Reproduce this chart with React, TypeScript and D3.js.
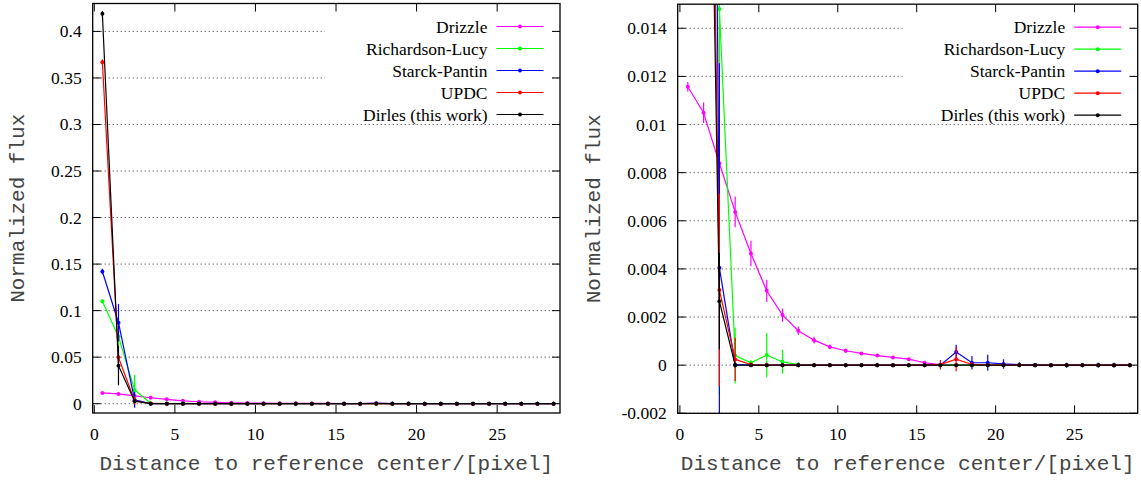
import React from "react";
import * as d3 from "d3";

// Distance bins (pixel), centers at i + 0.5
const distance: number[] = d3.range(29).map((i) => i + 0.5);

const seriesNames = ["Drizzle", "Richardson-Lucy", "Starck-Pantin", "UPDC", "Dirles (this work)"];
const seriesColors = ["#ff00ff", "#00ff00", "#0000ff", "#ff0000", "#000000"];

const drizzle = [0.01157, 0.01049, 0.00839, 0.00637, 0.00464, 0.00309, 0.00208, 0.00143, 0.00104, 0.00076,
  0.0006, 0.00049, 0.0004, 0.00032, 0.00025, 0.0001, 0.00002, 0.00001, 0.00001, 0, 0, 0, 0, 0, 0, 0, 0, 0, 0];
const drizzleErr = [0.0002, 0.00043, 0.0004, 0.00064, 0.00053, 0.00046, 0.00028, 0.00018, 0.00014, 0.0001,
  0.00008, 0.00006, 0.00005, 0.00004, 0.00003, 0.00002, 0.00001, 0, 0, 0, 0, 0, 0, 0, 0, 0, 0, 0, 0];

const richardsonLucy = [0.110, 0.072, 0.0148, 0.0004, 0.0001, 0.00042, 0.00014, 0.00002, 0, 0,
  0, 0, 0, 0, 0, 0, 0, 0, 0, 0, 0, 0, 0, 0, 0, 0, 0, 0, 0];
const richardsonLucyErr = [0.002, 0.01, 0.016, 0.00116, 0.0001, 0.00092, 0.0005, 0.0001, 0, 0,
  0, 0, 0, 0, 0, 0, 0, 0, 0, 0, 0, 0, 0, 0, 0, 0, 0, 0, 0];

const starckPantin = [0.142, 0.087, 0.00405, 0.00002, 0, 0, 0, 0, 0, 0,
  0, 0, 0, 0, 0, 0, 0, 0.00055, 0.0001, 0.0001, 0.00005, 0.00002, 0, 0, 0, 0, 0, 0, 0];
const starckPantinErr = [0.003, 0.02, 0.0085, 0.0001, 0, 0, 0, 0, 0, 0,
  0, 0, 0, 0, 0, 0, 0.0001, 0.0003, 0.00028, 0.00033, 0.0002, 0.0001, 0, 0, 0.0001, 0, 0.0001, 0.0001, 0];

const updc = [0.367, 0.0498, 0.00312, 0.00024, 0.00002, 0, 0, 0, 0, 0,
  0, 0, 0, 0, 0, 0, 0.00002, 0.00025, 0.00003, 0, 0, 0, 0, 0, 0, 0, 0, 0, 0];
const updcErr = [0.003, 0.005, 0.004, 0.0009, 0.0001, 0, 0, 0, 0, 0,
  0, 0, 0, 0, 0, 0, 0.0002, 0.0005, 0.0001, 0, 0, 0, 0, 0, 0, 0, 0, 0, 0];

const dirles = [0.419, 0.0409, 0.00266, 0, 0, 0, 0, 0, 0, 0,
  0, 0, 0, 0, 0, 0, 0, 0, 0, 0, 0, 0, 0, 0, 0, 0, 0, 0, 0];
const dirlesErr = [0.003, 0.021, 0.002, 0.0001, 0, 0, 0, 0, 0, 0,
  0, 0, 0, 0, 0, 0, 0, 0, 0, 0, 0, 0, 0, 0, 0, 0, 0, 0, 0];

const seriesValues = [drizzle, richardsonLucy, starckPantin, updc, dirles];
const seriesErrors = [drizzleErr, richardsonLucyErr, starckPantinErr, updcErr, dirlesErr];

const xTicks = [0, 5, 10, 15, 20, 25];
const leftYTicks = [0, 0.05, 0.1, 0.15, 0.2, 0.25, 0.3, 0.35, 0.4];
const leftYLabels = ["0", "0.05", "0.1", "0.15", "0.2", "0.25", "0.3", "0.35", "0.4"];
const rightYTicks = [-0.002, 0, 0.002, 0.004, 0.006, 0.008, 0.01, 0.012, 0.014];
const rightYLabels = ["-0.002", "0", "0.002", "0.004", "0.006", "0.008", "0.01", "0.012", "0.014"];

const xLabel = "Distance to reference center/[pixel]";
const yLabel = "Normalized flux";

const SERIF = "Liberation Serif";
const MONO = "Liberation Mono";

type PanelProps = {
  id: string;
  x0: number; x1: number; y0: number; y1: number;
  xDomain: [number, number];
  yDomain: [number, number];
  yTicks: number[];
  yLabels: string[];
  yLabelX: number;
};

function Panel(p: PanelProps) {
  const x = d3.scaleLinear().domain(p.xDomain).range([p.x0, p.x1]);
  const y = d3.scaleLinear().domain(p.yDomain).range([p.y1, p.y0]);
  const line = d3.line<number>().x((_, i) => x(distance[i])).y((v) => y(v));
  const tickLen = 8;
  const legendRows = [23, 45, 67, 89, 111];
  const textEnd = p.x1 - 72.5;
  const lineA = p.x1 - 63.5;
  const lineB = p.x1 - 16.5;
  const clipId = `clip-${p.id}`;
  const cx = (p.x0 + p.x1) / 2;
  const cy = (p.y0 + p.y1) / 2;
  return (
    <g>
      <defs>
        <clipPath id={clipId}>
          <rect x={p.x0} y={p.y0} width={p.x1 - p.x0} height={p.y1 - p.y0} />
        </clipPath>
      </defs>
      {/* grid */}
      {p.yTicks.map((t, i) => (
        <line key={`g${i}`} x1={p.x0} x2={p.x1} y1={y(t)} y2={y(t)}
          stroke="#000" strokeWidth={1} strokeDasharray="1,3" opacity={0.8} />
      ))}
      {/* legend background */}
      <rect x={p.x1 - 235} y={p.y0 + 1} width={226} height={116} fill="#fff" />
      {/* data */}
      <g clipPath={`url(#${clipId})`}>
        {seriesValues.map((vals, s) => (
          <g key={`s${s}`}>
            {vals.map((v, i) => {
              const e = seriesErrors[s][i];
              return e > 0 ? (
                <line key={`e${i}`} x1={x(distance[i])} x2={x(distance[i])} y1={y(v - e)} y2={y(v + e)}
                  stroke={seriesColors[s]} strokeWidth={1.2} />
              ) : null;
            })}
            <path d={line(vals) || ""} fill="none" stroke={seriesColors[s]} strokeWidth={1.2} />
            {vals.map((v, i) => (
              <circle key={`p${i}`} cx={x(distance[i])} cy={y(v)} r={2} fill={seriesColors[s]} />
            ))}
          </g>
        ))}
      </g>
      {/* legend */}
      {seriesNames.map((n, s) => (
        <g key={`l${s}`}>
          <text x={textEnd} y={p.y0 + legendRows[s]} textAnchor="end" dominantBaseline="central"
            fontFamily={SERIF} fontSize={17.5} fill="#000">{n}</text>
          <line x1={lineA} x2={lineB} y1={p.y0 + legendRows[s]} y2={p.y0 + legendRows[s]}
            stroke={seriesColors[s]} strokeWidth={1.2} />
          <circle cx={(lineA + lineB) / 2} cy={p.y0 + legendRows[s]} r={2} fill={seriesColors[s]} />
        </g>
      ))}
      {/* frame */}
      <rect x={p.x0} y={p.y0} width={p.x1 - p.x0} height={p.y1 - p.y0} fill="none" stroke="#000" strokeWidth={1.3} />
      {/* x ticks */}
      {xTicks.map((t, i) => (
        <g key={`xt${i}`}>
          <line x1={x(t)} x2={x(t)} y1={p.y1} y2={p.y1 - tickLen} stroke="#000" strokeWidth={1} />
          <line x1={x(t)} x2={x(t)} y1={p.y0} y2={p.y0 + tickLen} stroke="#000" strokeWidth={1} />
          <text x={x(t)} y={p.y1 + 21} textAnchor="middle" dominantBaseline="central"
            fontFamily={SERIF} fontSize={17.5} fill="#000">{t}</text>
        </g>
      ))}
      {/* y ticks */}
      {p.yTicks.map((t, i) => (
        <g key={`yt${i}`}>
          <line x1={p.x0} x2={p.x0 + tickLen} y1={y(t)} y2={y(t)} stroke="#000" strokeWidth={1} />
          <line x1={p.x1} x2={p.x1 - tickLen} y1={y(t)} y2={y(t)} stroke="#000" strokeWidth={1} />
          <text x={p.x0 - 11} y={y(t)} textAnchor="end" dominantBaseline="central"
            fontFamily={SERIF} fontSize={17.5} fill="#000">{p.yLabels[i]}</text>
        </g>
      ))}
      {/* axis labels */}
      <text x={cx} y={470} textAnchor="middle" fontFamily={MONO} fontSize={21} fill="#444">{xLabel}</text>
      <text transform={`translate(${p.yLabelX},${cy}) rotate(-90)`} textAnchor="middle"
        fontFamily={MONO} fontSize={21} fill="#444">{yLabel}</text>
    </g>
  );
}

export default function App() {
  return (
    <svg width={1141} height={480} style={{ position: "absolute", left: 0, top: 0, background: "#fff" }}>
      <rect x={0} y={0} width={1141} height={480} fill="#fff" />
      <Panel id="left" x0={92.7} x1={560} y0={3.5} y1={413}
        xDomain={[-0.1, 28.9]} yDomain={[-0.01, 0.43]}
        yTicks={leftYTicks} yLabels={leftYLabels} yLabelX={23.5} />
      <Panel id="right" x0={677.7} x1={1137.7} y0={4.2} y1={413.3}
        xDomain={[-0.14, 29.0]} yDomain={[-0.002, 0.015]}
        yTicks={rightYTicks} yLabels={rightYLabels} yLabelX={600} />
    </svg>
  );
}
